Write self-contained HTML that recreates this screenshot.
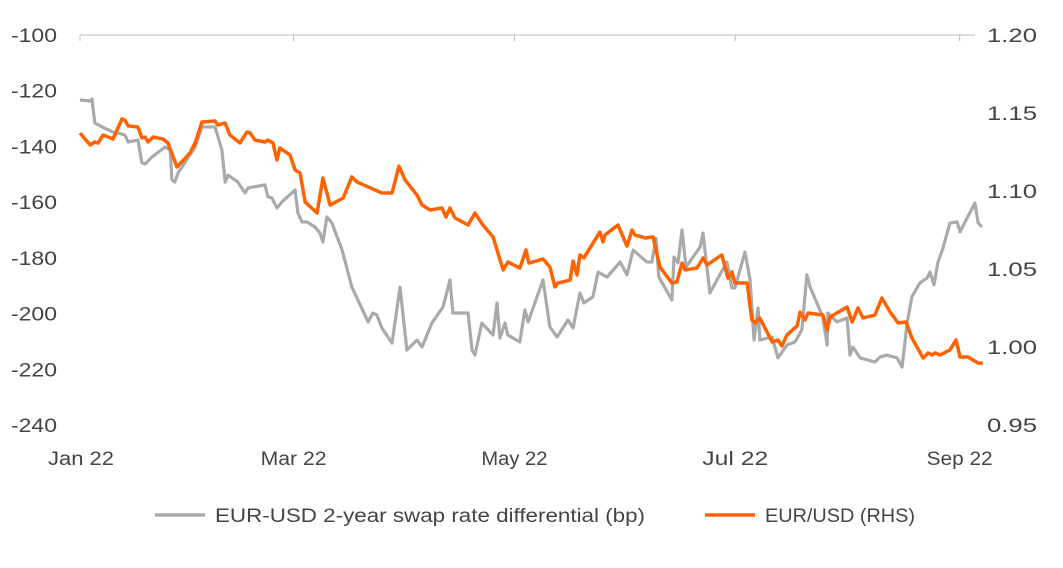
<!DOCTYPE html>
<html><head><meta charset="utf-8"><style>
body{margin:0;background:#fff;}
svg{display:block;font-family:"Liberation Sans",sans-serif;}
</style></head><body>
<svg id="chart" width="1063" height="568">
<g id="axes"></g>
<g id="series"></g>
<g>
<line x1="155" y1="515" x2="205" y2="515" stroke="#aaaaaa" stroke-width="3.5"/>
<text x="215" y="522" font-size="19" fill="#444" textLength="430" lengthAdjust="spacingAndGlyphs">EUR-USD 2-year swap rate differential (bp)</text>
<line x1="705" y1="515" x2="755" y2="515" stroke="#ff6200" stroke-width="3.5"/>
<text x="765" y="522" font-size="19" fill="#444" textLength="150" lengthAdjust="spacingAndGlyphs">EUR/USD (RHS)</text>
</g>
</svg>
<script>
const leftTicks=[-100,-120,-140,-160,-180,-200,-220,-240];
const rightTicks=["1.20","1.15","1.10","1.05","1.00","0.95"];
const monthLabels=["Jan 22","Mar 22","May 22","Jul 22","Sep 22"];
const monthDays=[0,59,120,181,243];
const swapDays=[0,2.8,3.3,4.1,6.1,9.7,10.5,12.4,13.3,16,17.1,18,19.9,23.5,24.9,25.4,26.2,27.1,31.8,33.7,37.3,39.2,40.1,40.9,43.6,45.6,46.4,51.1,51.9,53,54.4,55.8,58.8,59.4,60.2,61.3,62.7,64.9,66.3,67.1,68.2,69.6,72.4,75.1,79.6,80.9,82,83.4,86.2,88.4,90.3,93.1,94.5,97.2,100.3,102.2,103,107.2,108.3,109.1,111,114.1,115.2,116,117.4,118.2,121.5,122.9,123.8,127.9,129.8,131.8,134.8,136.2,138.1,139.2,141.7,143.1,145.6,149.2,151.1,152.8,156.6,158,159.1,159.9,163.5,164.1,165.2,166.3,167.4,171.3,172.1,174,178.7,180.1,180.9,183.7,185.1,186.2,187.3,187.8,191.2,192.8,195.3,197.5,199.4,200.8,201.7,205.2,206.4,206.6,209.1,211.9,212.7,213.5,215.5,219.6,221,222.9,225.7,227.1,228.5,229.8,232,234,234.8,235.9,237,238.4,240.3,242.3,243.1,244.5,247.2,248.1,249.2];
const swapVals=[-123.3,-123.7,-123,-131.6,-133,-135.2,-135.2,-135.9,-138.4,-137.7,-145.9,-146.3,-143.8,-140.2,-141.3,-152,-152.8,-149.5,-140.2,-133,-133,-141.3,-152.8,-150.3,-152.8,-156.7,-154.9,-153.8,-158.1,-158.5,-162.1,-159.9,-156.4,-155.6,-163.9,-167.1,-167.1,-168.9,-171.1,-174.3,-165.3,-167.5,-177.2,-190.5,-203,-199.8,-200.5,-205.2,-210.6,-190.5,-213.1,-209.5,-212,-203.4,-197.6,-187.9,-199.8,-199.8,-213.1,-214.9,-203.4,-207.7,-196.2,-208.8,-203.4,-207.7,-210.2,-198.7,-203,-187.9,-204.8,-208.4,-202.3,-205.2,-192.6,-196.2,-194,-185.1,-186.9,-181.5,-186.1,-177.2,-181.5,-181.5,-172.9,-186.9,-195.1,-179.7,-181.8,-170,-183.3,-176.1,-171.1,-192.6,-181.5,-190.8,-190.8,-177.9,-187.9,-209.5,-198,-209.5,-208.4,-215.9,-211.3,-210.2,-205.9,-186.1,-190.5,-201.2,-211.3,-199.8,-203,-201.6,-214.9,-212,-215.9,-217.4,-215.6,-214.9,-215.9,-219.2,-203.4,-194,-189,-187.2,-185.1,-189.7,-181.5,-176.5,-167.5,-167.1,-170.7,-167.1,-160.3,-167.5,-168.9];
const fxDays=[0,2.8,4.1,5,6.4,9.1,11.6,12.4,13.3,16,17.1,18,18.8,20.2,22.9,24.3,26.8,30.4,31.8,33.7,37.3,38.1,40.1,41.4,44.2,46.1,47,48.3,51.1,51.9,53.3,54.4,55.2,58,59.4,60.8,62.2,65.5,67.1,69.1,72.7,75.1,76.5,79.6,83.4,86.2,88.1,89.8,93.1,94.5,96.7,100,101.1,102.2,103.6,107.2,109.1,111.3,114.1,116.9,118.2,121.5,123.2,124,127.9,129.8,131.2,132,135.4,136.2,137.3,138.1,139.2,143.6,144.5,145,148.6,151.1,152.5,153.3,156.1,158.3,160.2,163.5,164.9,166.3,167.1,170.4,171.3,172.1,173.2,177.3,179,180.1,180.9,184.3,185.6,186.5,187.8,191.2,192.8,193.9,195.3,198.1,198.9,200.3,201.1,205.2,206.4,207.2,211.9,213.3,214.9,216.3,219.6,221.5,223.8,226,228.2,229.8,232.9,234.3,235.4,236.2,237.6,240.3,242,243.1,245.3,248.1,249.4];
const fxVals=[1.1372,1.1295,1.1314,1.1308,1.1359,1.1333,1.1462,1.1455,1.1417,1.141,1.134,1.1346,1.1314,1.1346,1.1333,1.1308,1.1154,1.1244,1.1308,1.1442,1.1449,1.1423,1.1436,1.1359,1.1308,1.1378,1.1372,1.1327,1.1314,1.1327,1.1308,1.1199,1.1276,1.1231,1.1135,1.1115,1.0929,1.0859,1.1083,1.091,1.0955,1.109,1.1058,1.1026,1.0987,1.0987,1.116,1.1071,1.0974,1.091,1.0878,1.0891,1.0833,1.0891,1.0827,1.0782,1.0859,1.0782,1.0705,1.0494,1.0545,1.0506,1.0622,1.0538,1.0564,1.0513,1.0385,1.041,1.0429,1.0551,1.0462,1.059,1.0571,1.0737,1.0673,1.0718,1.0782,1.0647,1.075,1.0718,1.0699,1.0705,1.0513,1.041,1.0417,1.0538,1.0494,1.0506,1.0538,1.0571,1.0526,1.059,1.0442,1.0481,1.041,1.041,1.0173,1.0154,1.0186,1.0032,1.0045,1.0006,1.0077,1.0135,1.0224,1.0173,1.0218,1.0205,1.0109,1.0192,1.0256,1.016,1.025,1.0186,1.0205,1.0314,1.0224,1.0154,1.016,1.0058,0.9929,0.9962,0.9949,0.9962,0.9949,0.9981,1.0045,0.9936,0.9936,0.9897,0.9897];

const NS="http://www.w3.org/2000/svg";
const X0=80,X1=975,YT=35,YB=425;
const xs=d=>X0+d*3.62;
const yL=v=>YT+(-100-v)/140*(YB-YT);
const yR=v=>YT+(1.20-v)/0.25*(YB-YT);
function mk(tag,attrs,parent){const e=document.createElementNS(NS,tag);for(const k in attrs)e.setAttribute(k,attrs[k]);parent.appendChild(e);return e;}
const axes=document.getElementById('axes');
const ax=mk('line',{x1:X0,y1:YT,x2:X1,y2:YT,stroke:'#bbb','stroke-width':1},axes);


leftTicks.forEach(v=>{const t=mk('text',{x:11,y:yL(v)+7,'font-size':19,fill:'#444',textLength:46,lengthAdjust:'spacingAndGlyphs'},axes);t.textContent=v;

});
rightTicks.forEach(s=>{const t=mk('text',{x:987,y:yR(parseFloat(s))+7,'font-size':19,fill:'#444',textLength:50,lengthAdjust:'spacingAndGlyphs'},axes);t.textContent=s;

});
monthLabels.forEach((s,i)=>{const x=xs(monthDays[i]);
const tk=mk('line',{x1:x,y1:YT,x2:x,y2:YT+6,stroke:'#bbb','stroke-width':1},axes);


const t=mk('text',{x:i==0?48:x-33,y:465,'font-size':19,fill:'#444',textLength:66,lengthAdjust:'spacingAndGlyphs'},axes);t.textContent=s;

});
const ser=document.getElementById('series');
const p1=mk('polyline',{points:swapDays.map((d,i)=>xs(d)+','+yL(swapVals[i])).join(' '),fill:'none',stroke:'#aaaaaa','stroke-width':3.2,'stroke-linejoin':'round'},ser);


const p2=mk('polyline',{points:fxDays.map((d,i)=>xs(d)+','+yR(fxVals[i])).join(' '),fill:'none',stroke:'#ff6200','stroke-width':3.5,'stroke-linejoin':'round'},ser);


</script>
</body></html>
